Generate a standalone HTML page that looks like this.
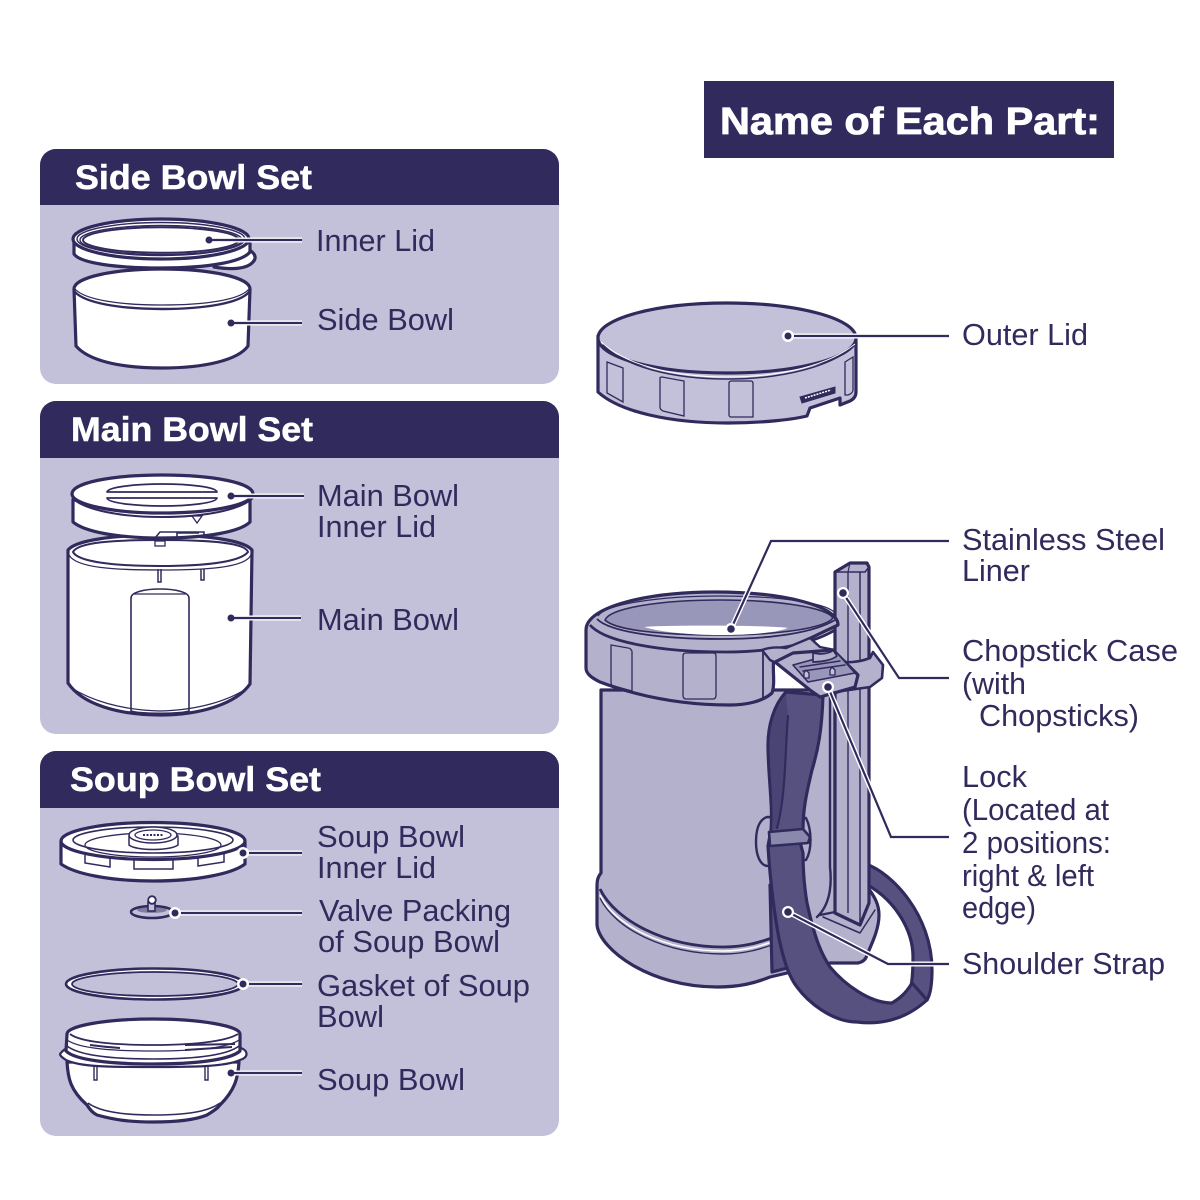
<!DOCTYPE html>
<html><head><meta charset="utf-8"><style>
html,body{margin:0;padding:0;background:#fff}
svg{display:block}
text{font-family:"Liberation Sans",sans-serif;fill:#312a5c;font-size:31px}
.h{font-weight:700;font-size:34px;fill:#fff;stroke:#fff;stroke-width:.5}
.o{fill:none;stroke:#312a5c;stroke-width:3.2;stroke-linejoin:round;stroke-linecap:round}
.w{fill:#fff;stroke:#312a5c;stroke-width:3.2;stroke-linejoin:round}
.t{fill:none;stroke:#312a5c;stroke-width:1.3}
.j{fill:#b3b1cc;stroke:#312a5c;stroke-width:3.2;stroke-linejoin:round}
.s{fill:#57517f;stroke:#312a5c;stroke-width:3.2;stroke-linejoin:round}
.halo{fill:none;stroke:#fff;stroke-width:5;stroke-linejoin:miter}
.ld{fill:none;stroke:#312a5c;stroke-width:2.2;stroke-linejoin:miter}
.dh{fill:#fff}.d{fill:#312a5c}
</style></head><body>
<svg width="1200" height="1200" viewBox="0 0 1200 1200" xmlns="http://www.w3.org/2000/svg">
<rect width="1200" height="1200" fill="#fff"/>
<rect x="704" y="81" width="410" height="77" fill="#312a5c"/>
<text x="720" y="134" class="h" style="font-size:38px;stroke-width:.8" textLength="380" lengthAdjust="spacingAndGlyphs">Name of Each Part:</text>

<!-- panels -->
<rect x="40" y="149" width="519" height="235" rx="16" fill="#c3c1d9"/>
<path d="M40 205V165a16 16 0 0 1 16-16H543a16 16 0 0 1 16 16V205Z" fill="#312a5c"/>
<rect x="40" y="401" width="519" height="333" rx="16" fill="#c3c1d9"/>
<path d="M40 458V417a16 16 0 0 1 16-16H543a16 16 0 0 1 16 16V458Z" fill="#312a5c"/>
<rect x="40" y="751" width="519" height="385" rx="16" fill="#c3c1d9"/>
<path d="M40 808V767a16 16 0 0 1 16-16H543a16 16 0 0 1 16 16V808Z" fill="#312a5c"/>
<text x="75" y="189" class="h" textLength="237" lengthAdjust="spacingAndGlyphs">Side Bowl Set</text>
<text x="71" y="441" class="h" textLength="242" lengthAdjust="spacingAndGlyphs">Main Bowl Set</text>
<text x="70" y="791" class="h" textLength="251" lengthAdjust="spacingAndGlyphs">Soup Bowl Set</text>

<!-- inner lid -->
<path class="w" d="M235 246C252 248 259 256 253 262C247 269 232 270 214 267Z"/>
<path class="w" d="M74 240V254C80 263 115 268 161 268C208 268 242 262 250 252V240Z"/>
<ellipse class="w" cx="161" cy="239" rx="88" ry="20"/>
<ellipse class="t" cx="161" cy="239" rx="84" ry="16.5" style="stroke-width:1.4"/>
<ellipse class="t" cx="161" cy="240" rx="81" ry="14.5" style="stroke-width:1.4"/>
<ellipse class="t" cx="161" cy="240" rx="78" ry="12.8" style="stroke-width:2"/>
<!-- side bowl -->
<path class="w" d="M74 289C74 277 115 269 162 269C209 269 250 277 250 289L248 346C238 360 205 368 162 368C118 368 88 360 76 346Z"/>
<path class="o" d="M75 292C85 303 120 309 162 309C205 309 240 303 249 292" style="stroke-width:2.4"/>
<path class="t" d="M75 289C85 300 120 305 162 305C205 305 240 300 249 289"/>

<!-- main bowl -->
<path class="w" d="M68 550C75 541 110 535 160 535C210 535 245 541 252 550L250 684C236 704 200 715 160 715C118 715 82 704 68 683Z"/>
<path class="o" d="M73 552C78 542 115 540 160 540C205 540 245 542 248 552C240 562 205 566 160 566C115 566 78 562 73 552Z" style="stroke-width:2"/>
<path class="t" d="M69 555C76 568 115 570 160 570C205 570 245 568 251 555"/>
<path class="t" d="M131 711V598C131 592 145 589 160 589C175 589 189 592 189 598V711C180 714 140 714 131 711Z" style="stroke-width:1.6"/>
<path class="t" d="M133 594H186"/>
<path class="t" d="M158 569V582H161V569M201 569V580H204V569" style="stroke-width:1.5"/>
<path class="t" d="M70 687C90 700 120 710 160 711C200 710 230 700 249 687"/>
<!-- main lid -->
<path class="w" d="M73 500V522C85 532 118 538 162 538C205 538 240 532 250 522V500Z"/>
<path class="w" d="M72 494C72 483 110 475 162 475C214 475 253 483 253 494C253 504 215 513 162 513C110 513 72 504 72 494Z"/>
<path class="t" d="M72 498C85 510 120 517 162 517C205 517 240 510 253 498" style="stroke-width:2"/>
<path class="o" d="M107 492C108 487 135 484 162 484C190 484 216 487 217 492H107ZM107 498C108 503 135 506 162 506C190 506 216 503 217 498H107Z" style="stroke-width:1.7"/>
<path class="t" d="M192 516H202L197 523Z"/>
<path class="t" d="M155 538L160 532H204V537M177 537V533H199" style="stroke-width:1.6"/>
<rect x="155" y="541" width="10" height="5" class="t"/>

<!-- soup lid -->
<path class="w" d="M61 842V864C75 874 110 881 153 881C196 881 232 874 245 864V842Z"/>
<ellipse class="w" cx="153" cy="841" rx="92" ry="18.5"/>
<ellipse class="t" cx="153" cy="840" rx="80" ry="13" style="stroke-width:1.6"/>
<ellipse class="t" cx="153" cy="845" rx="68" ry="12"/>
<path class="w" d="M129 836V845C136 851 170 851 178 845V836Z" style="stroke-width:1.5"/>
<ellipse class="w" cx="153" cy="835" rx="24" ry="8" style="stroke-width:1.5"/>
<ellipse class="t" cx="153" cy="835" rx="18" ry="5"/>
<path d="M143 835h20" stroke="#312a5c" stroke-width="2" stroke-dasharray="2 1.5"/>
<path class="t" d="M85 855V863L110 867V857M134 859V869H173V859M198 857V866L224 862V854" style="stroke-width:1.5"/>
<!-- valve -->
<ellipse cx="152" cy="912" rx="21" ry="6" fill="#c3c1d9" stroke="#312a5c" stroke-width="2.5"/>
<ellipse cx="152" cy="910" rx="15" ry="3" fill="#312a5c" opacity=".45"/>
<rect x="148" y="902" width="7" height="9" fill="#c3c1d9" stroke="#312a5c" stroke-width="1.6"/>
<circle cx="152" cy="900" r="3.8" fill="#fff" stroke="#312a5c" stroke-width="1.8"/>
<!-- gasket -->
<ellipse cx="155" cy="984" rx="89" ry="15.5" fill="#fff" stroke="#312a5c" stroke-width="2.6"/>
<ellipse cx="155" cy="984" rx="83" ry="12" fill="#c3c1d9" stroke="#312a5c" stroke-width="1.8"/>
<!-- soup bowl -->
<path class="w" d="M67 1062C68 1078 70 1090 87 1105C90 1110 93 1113 97 1115C115 1120 130 1122 153 1122C178 1122 195 1120 207 1115C212 1112 217 1109 220 1105C235 1090 238 1078 239 1062Z"/>
<path class="t" d="M88 1103C100 1112 125 1115 153 1115C185 1115 208 1112 220 1103" style="stroke-width:1.6"/>
<path class="w" d="M60 1054C63 1050 66 1048 70 1047L238 1047C249 1050 249 1057 240 1060C225 1067 190 1067 153 1067C110 1067 80 1067 66 1060C63 1058 60 1056 60 1054Z" style="stroke-width:2.2"/>
<path class="w" d="M67 1034C67 1026 105 1019 153 1019C200 1019 240 1026 240 1034V1051C230 1060 195 1064 153 1064C110 1064 75 1060 66 1051Z"/>
<path class="t" d="M70 1034C80 1042 115 1045 153 1045C190 1045 225 1042 238 1034" style="stroke-width:1.8"/>
<path class="t" d="M67 1040C80 1049 115 1051 153 1051C190 1051 226 1049 239 1040"/>
<path class="t" d="M67 1046C80 1056 115 1059 153 1059C190 1059 226 1056 239 1046" style="stroke-width:1.6"/>
<path d="M90 1045C105 1047 105 1047 120 1048M185 1045L235 1044M185 1050L232 1047" stroke="#312a5c" stroke-width="2" fill="none"/>
<path class="t" d="M94 1066V1080H97V1066M205 1066V1080H208V1066" style="stroke-width:1.4"/>

<!-- outer lid -->
<path d="M598 336V392C620 412 670 423 728 423C765 423 795 419 807 416L810 408L840 398V405L850 401C854 399 856 396 856 392V336Z" fill="#c3c1d9" stroke="#312a5c" stroke-width="3.2" stroke-linejoin="round"/>
<ellipse cx="727" cy="338" rx="129" ry="35" fill="#c3c1d9" stroke="#312a5c" stroke-width="3.2"/>
<path d="M601 342C625 364 670 377 727 377C785 377 830 364 855 344" fill="none" stroke="#fff" stroke-width="1"/>
<path class="o" d="M603 345C625 366 670 379 727 379C785 379 830 366 853 347" style="stroke-width:1.5"/>
<path class="t" d="M607 362L623 368V402L607 393Z"/>
<path class="t" d="M660 378C660 377 661 377 662 377L684 381V416L663 411C661 410 660 409 660 407Z"/>
<path class="t" d="M729 383C729 382 730 381 731 381H751C752 381 753 382 753 383V417H731C730 417 729 416 729 415Z"/>
<path class="t" d="M845 362L853 357V390C853 392 851 394 848 395L845 395Z"/>
<path d="M800 397L835 387L835 393L802 403Z" fill="#312a5c" stroke="#312a5c" stroke-width="1"/>
<path d="M805 398L831 390" stroke="#fff" stroke-width="1.5" stroke-dasharray="2 1"/>

<!-- strap far loop -->
<path class="s" d="M866 864C892 873 932 915 932 970C932 985 930 995 927 1000L905 1008C912 990 913 975 913 957C913 930 895 900 866 884Z"/>
<!-- jar body -->
<path class="j" d="M601 690V873C597 878 597 882 597 888V925C600 950 650 987 717 987C740 987 755 983 770 977L830 963H858C863 962 866 959 867 955C871 945 879 930 879 915C879 905 875 897 868 888L835 880V690Z"/>
<path d="M600 889C615 920 665 947 723 947C745 947 760 942 772 938" fill="none" stroke="#312a5c" stroke-width="2.8"/>
<path d="M600 895C615 926 665 951 723 951C745 951 760 946 772 942" fill="none" stroke="#fff" stroke-width="1.5"/>
<path d="M600 898C615 929 665 954 723 954C745 954 760 949 772 945" fill="none" stroke="#312a5c" stroke-width="1.4"/>
<path class="o" d="M830 690V867C832 885 830 905 817 917" style="stroke-width:2.4"/>
<path class="o" d="M820 915L835 912L860 925" style="stroke-width:2.2"/>
<path class="o" d="M823 917L860 933L875 910" style="stroke-width:1.5"/>
<!-- pole -->
<path class="j" d="M835 572L850 563H867L869 567V903L860 925L835 913Z"/>
<path class="o" d="M835 572H865L869 567M860 572V925" style="stroke-width:1.5"/>
<path class="o" d="M850 563L848 572" style="stroke-width:1.2"/>
<path class="t" d="M848 572V913" style="stroke-width:1.4"/>
<!-- buckle side -->
<path class="j" d="M767 817C758 820 756 832 756 842C756 855 760 865 767 866L806 860C812 850 812 830 806 818Z" style="stroke-width:2.4"/>
<!-- collar -->
<path class="j" d="M586 630C586 606 650 592 715 592C780 592 838 605 838 625L775 655C771 665 776 682 772 693C762 702 745 705 730 705C685 705 640 697 600 682C592 678 586 674 586 668Z"/>
<path d="M605 620C610 608 660 600 720 600C780 600 828 608 833 618C825 628 780 635 720 635C660 635 615 630 605 620Z" fill="#9896b9" stroke="#312a5c" stroke-width="1.6"/>
<path d="M598 616C606 604 660 596 720 596C780 596 825 603 834 612" fill="none" stroke="#312a5c" stroke-width="1.2"/>
<path d="M644 627C660 625 770 625 788 628C775 633 750 635 720 635C690 635 660 632 644 627Z" fill="#fff"/>
<path d="M597 619C610 632 660 639 720 639C775 639 815 632 835 620" fill="none" stroke="#312a5c" stroke-width="1.8"/>
<path d="M590 625C605 642 660 652 725 652C770 652 810 645 835 630" fill="none" stroke="#312a5c" stroke-width="2.8"/>
<path class="t" d="M611 645L628 648C630 648 632 650 632 652V691L614 686C612 686 611 684 611 682Z"/>
<path class="t" d="M683 656C683 654 684 653 686 653H713C715 653 716 654 716 656V695C716 698 715 699 713 699H686C684 699 683 698 683 695Z"/>
<path class="o" d="M763 650V699" style="stroke-width:1.8"/>
<!-- clip round pole -->
<path class="j" d="M835 660C845 664 860 662 870 658L873 652L883 665L882 678L870 687L835 692Z" style="stroke-width:2.6"/>
<!-- strap -->
<path class="s" d="M770 885L772 972L795 966L790 900Z"/>
<path class="s" d="M786 692C774 705 768 725 768 745C768 775 773 805 771 830L768 846C770 880 775 920 780 943C785 965 790 978 797 987C808 1002 832 1022 857 1022C880 1025 905 1020 927 1000L912 983C905 995 897 1000 892 1003C870 1003 845 985 830 967C822 955 815 940 807 903C804 885 803 865 803 853L800 842L803 830C803 810 806 795 812 770C818 750 822 730 823 695Z"/>
<path d="M786 695C776 708 770 725 770 745C769 770 774 800 772 830L778 828C786 795 783 740 788 716Z" fill="#4a4474"/>
<path class="o" d="M788 716C785 750 786 795 777 828" style="stroke-width:2.2"/>
<path class="s" style="fill:#8b88ad;stroke-width:2.6" d="M769 832L803 829L810 837L808 843L770 846Z"/>
<!-- lock buckle -->
<path class="j" d="M762 650C770 647 778 647 786 648L810 638L820 647L835 650V665L790 670L770 660Z" style="stroke-width:2.4"/>
<path class="j" d="M775 662L793 653L833 650L858 675L855 687L820 697L810 690Z"/>
<path d="M793 665L837 653L855 673L808 682Z" fill="#9896b9" stroke="#312a5c" stroke-width="1.6" stroke-linejoin="round"/>
<path class="o" d="M800 667L840 661M803 671L845 665" style="stroke-width:1.5"/>
<path class="j" d="M804 678V673L806 670L809 673V678ZM830 675V670L832 667L835 670V675Z" style="stroke-width:1.3;fill:#c3c1d9"/>
<path class="j" d="M813 653L820 654C826 654 832 652 833 650L837 656C832 660 822 662 813 662Z" style="stroke-width:1.7"/>

<!-- leaders -->
<g>
<path class="halo" d="M209 240H302"/><path class="ld" d="M209 240H302"/><circle class="d" cx="209" cy="240" r="3.5"/>
<path class="halo" d="M231 323H302"/><path class="ld" d="M231 323H302"/><circle class="d" cx="231" cy="323" r="3.5"/>
<path class="halo" d="M231 496H304"/><path class="ld" d="M231 496H304"/><circle class="d" cx="231" cy="496" r="3.5"/>
<path class="halo" d="M231 618H301"/><path class="ld" d="M231 618H301"/><circle class="d" cx="231" cy="618" r="3.5"/>
<path class="halo" d="M243 853H302"/><path class="ld" d="M243 853H302"/><circle class="dh" cx="243" cy="853" r="6"/><circle class="d" cx="243" cy="853" r="3.5"/>
<path class="halo" d="M175 913H302"/><path class="ld" d="M175 913H302"/><circle class="dh" cx="175" cy="913" r="6"/><circle class="d" cx="175" cy="913" r="3.5"/>
<path class="halo" d="M243 984H302"/><path class="ld" d="M243 984H302"/><circle class="dh" cx="243" cy="984" r="6"/><circle class="d" cx="243" cy="984" r="3.5"/>
<path class="halo" d="M231 1073H302"/><path class="ld" d="M231 1073H302"/><circle class="d" cx="231" cy="1073" r="3.5"/>
<path class="halo" d="M788 336H949"/><path class="ld" d="M788 336H949"/><circle class="dh" cx="788" cy="336" r="6"/><circle class="d" cx="788" cy="336" r="3.5"/>
<path class="halo" d="M731 629L771 541H949"/><path class="ld" d="M731 629L771 541H949"/><circle class="dh" cx="731" cy="629" r="6"/><circle class="d" cx="731" cy="629" r="3.8"/>
<path class="halo" d="M843 593L899 678H949"/><path class="ld" d="M843 593L899 678H949"/><circle class="dh" cx="843" cy="593" r="6"/><circle class="d" cx="843" cy="593" r="3.8"/>
<path class="halo" d="M828 687L891 837H949"/><path class="ld" d="M828 687L891 837H949"/><circle class="dh" cx="828" cy="687" r="6"/><circle class="d" cx="828" cy="687" r="3.8"/>
<path class="halo" d="M788 912L888 964H949"/><path class="ld" d="M788 912L888 964H949"/><circle class="dh" cx="788" cy="912" r="6"/><circle class="d" cx="788" cy="912" r="3.8"/>
</g>

<!-- labels -->
<text x="316" y="251" textLength="119" lengthAdjust="spacingAndGlyphs">Inner Lid</text>
<text x="317" y="330" textLength="137" lengthAdjust="spacingAndGlyphs">Side Bowl</text>
<text x="317" y="506" textLength="142" lengthAdjust="spacingAndGlyphs">Main Bowl</text>
<text x="317" y="537" textLength="119" lengthAdjust="spacingAndGlyphs">Inner Lid</text>
<text x="317" y="630" textLength="142" lengthAdjust="spacingAndGlyphs">Main Bowl</text>
<text x="317" y="847" textLength="148" lengthAdjust="spacingAndGlyphs">Soup Bowl</text>
<text x="317" y="878" textLength="119" lengthAdjust="spacingAndGlyphs">Inner Lid</text>
<text x="319" y="921" textLength="192" lengthAdjust="spacingAndGlyphs">Valve Packing</text>
<text x="318" y="952" textLength="182" lengthAdjust="spacingAndGlyphs">of Soup Bowl</text>
<text x="317" y="996" textLength="213" lengthAdjust="spacingAndGlyphs">Gasket of Soup</text>
<text x="317" y="1027" textLength="67" lengthAdjust="spacingAndGlyphs">Bowl</text>
<text x="317" y="1090" textLength="148" lengthAdjust="spacingAndGlyphs">Soup Bowl</text>
<text x="962" y="345" textLength="126" lengthAdjust="spacingAndGlyphs">Outer Lid</text>
<text x="962" y="550" textLength="203" lengthAdjust="spacingAndGlyphs">Stainless Steel</text>
<text x="962" y="581" textLength="68" lengthAdjust="spacingAndGlyphs">Liner</text>
<text x="962" y="661" textLength="216" lengthAdjust="spacingAndGlyphs">Chopstick Case</text>
<text x="962" y="694" textLength="64" lengthAdjust="spacingAndGlyphs">(with</text>
<text x="979" y="726" textLength="160" lengthAdjust="spacingAndGlyphs">Chopsticks)</text>
<text x="962" y="787" textLength="65" lengthAdjust="spacingAndGlyphs">Lock</text>
<text x="962" y="820" textLength="147" lengthAdjust="spacingAndGlyphs">(Located at</text>
<text x="962" y="853" textLength="149" lengthAdjust="spacingAndGlyphs">2 positions:</text>
<text x="962" y="886" textLength="132" lengthAdjust="spacingAndGlyphs">right &amp; left</text>
<text x="962" y="918" textLength="74" lengthAdjust="spacingAndGlyphs">edge)</text>
<text x="962" y="974" textLength="203" lengthAdjust="spacingAndGlyphs">Shoulder Strap</text>
</svg>
</body></html>
